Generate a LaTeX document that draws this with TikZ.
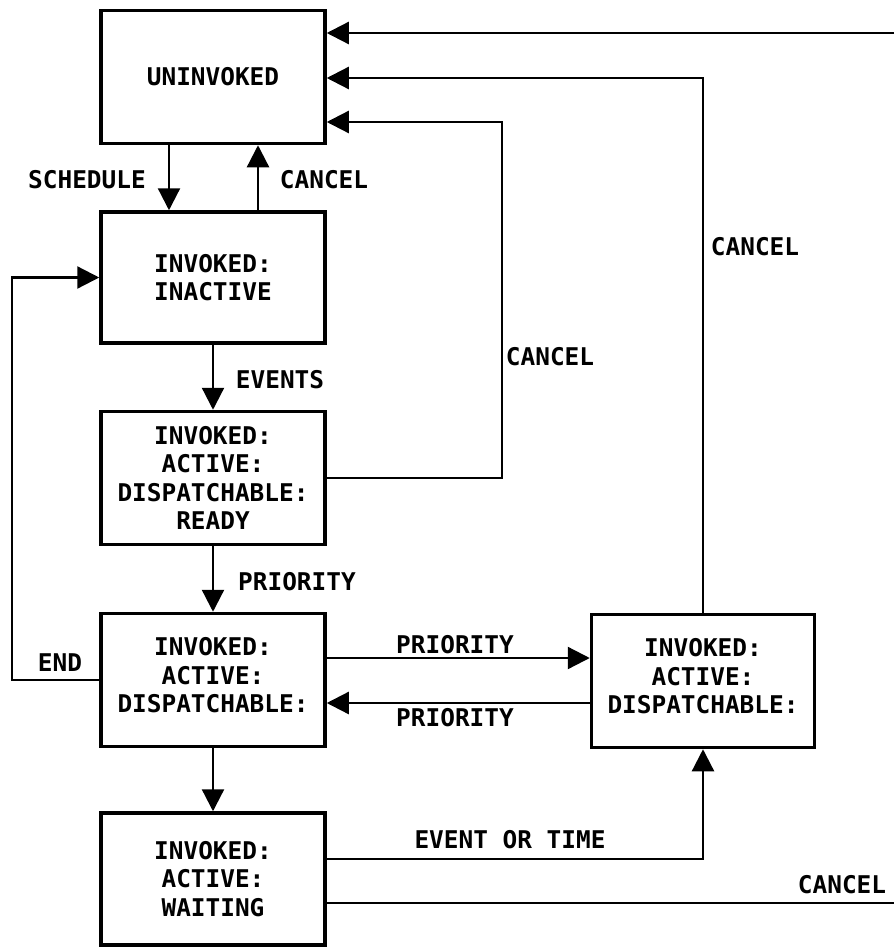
\documentclass[tikz,border=0pt]{standalone}
\usepackage{fontspec}
\setmonofont{DejaVu Sans Mono}
\usetikzlibrary{arrows.meta}
\begin{document}
\begin{tikzpicture}[x=1pt,y=-1pt,
  every node/.style={font=\fontsize{24.4}{28.5}\selectfont\ttfamily\bfseries, inner sep=0pt},
  state/.style={draw, line width=3.5pt, minimum width=224pt, minimum height=133pt, align=center},
  link/.style={line width=2.3pt},
  arr/.style={link, -{Triangle[length=22pt,width=22pt]}},
  lbl/.style={anchor=center}]
\useasboundingbox (0,0) rectangle (894,947);

% states
\node[state] (U)  at (213,77)  {UNINVOKED};
\node[state, minimum height=131pt] (I) at (213,277.5) {INVOKED:\\INACTIVE};
\node[state] (R)  at (213,478) {INVOKED:\\ACTIVE:\\DISPATCHABLE:\\READY};
\node[state, text depth=10pt] (D)  at (213,680) {INVOKED:\\ACTIVE:\\DISPATCHABLE:};
\node[state, minimum height=132pt] (W) at (213,879) {INVOKED:\\ACTIVE:\\WAITING};
\node[state, minimum width=223pt, text depth=10pt] (D2) at (703,681) {INVOKED:\\ACTIVE:\\DISPATCHABLE:};

% routing coordinates
\coordinate (xs)  at (169,0);
\coordinate (xk)  at (258,0);
\coordinate (xl)  at (12,0);
\coordinate (xc)  at (502,0);
\coordinate (y1)  at (0,33);
\coordinate (y2)  at (0,78);
\coordinate (y3)  at (0,122);
\coordinate (yp1) at (0,658);
\coordinate (yp2) at (0,703);
\coordinate (ye)  at (0,859);
\coordinate (yc)  at (0,903);
\coordinate (edgeTop) at (894,33);
\coordinate (edgeBot) at (894,903);

% transitions
\draw[arr] (U.south -| xs) -- (I.north -| xs);
\draw[arr] (I.north -| xk) -- (U.south -| xk);
\draw[arr] (I.south) -- (R.north);
\draw[arr] (R.south) -- (D.north);
\draw[arr] (D.south) -- (W.north);
\draw[arr] (D.west) -- (D.west -| xl) -- (I.west -| xl) -- (I.west);
\draw[arr] (R.east) -- (R.east -| xc) -- (xc |- y3) -- (U.east |- y3);
\draw[arr] (D2.north) -- (D2.north |- y2) -- (U.east |- y2);
\draw[arr] (edgeTop) -- (U.east |- y1);
\draw[arr] (D.east |- yp1) -- (D2.west |- yp1);
\draw[arr] (D2.west |- yp2) -- (D.east |- yp2);
\draw[arr] (W.east |- ye) -- (D2.south |- ye) -- (D2.south);
\draw[link] (W.east |- yc) -- (edgeBot);

% transition labels
\node[lbl] (lSched) at (87,180)  {SCHEDULE};
\node[lbl] (lCan1)  at (324,180) {CANCEL};
\node[lbl] (lEv)    at (280,380) {EVENTS};
\node[lbl] (lPr1)   at (297,582) {PRIORITY};
\node[lbl] (lEnd)   at (60,663)  {END};
\node[lbl] (lCan2)  at (550,357) {CANCEL};
\node[lbl] (lCan3)  at (755,247) {CANCEL};
\node[lbl] (lPr2)   at (455,645) {PRIORITY};
\node[lbl] (lPr3)   at (455,718) {PRIORITY};
\node[lbl] (lEt)    at (510,840) {EVENT OR TIME};
\node[lbl] (lCan4)  at (842,885) {CANCEL};
\end{tikzpicture}
\end{document}
